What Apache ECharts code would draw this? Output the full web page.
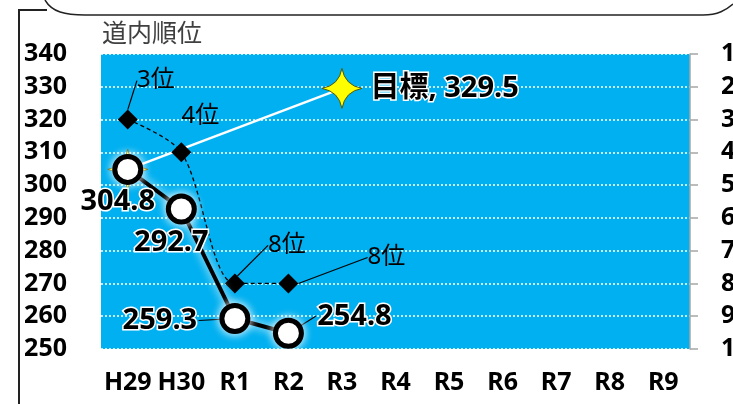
<!DOCTYPE html>
<html>
<head>
<meta charset="utf-8">
<script src="https://cdn.jsdelivr.net/npm/echarts@6/dist/echarts.min.js"></script>
<style>
  html, body { margin: 0; padding: 0; background: #fff; }
  #chart { width: 733px; height: 404px; }
</style>
</head>
<body>
<div id="chart"></div>
<script>
// 年度
var years = ['H29', 'H30', 'R1', 'R2', 'R3', 'R4', 'R5', 'R6', 'R7', 'R8', 'R9'];
// 平均点
var scores = [304.8, 292.7, 259.3, 254.8];
// 道内順位
var ranks = [3, 4, 8, 8];
// 目標 (H29 から R3 へ)
var target = [304.8, null, null, null, 329.5];

var FONT = "'Noto Sans', 'Noto Sans CJK JP', sans-serif";
var chart = echarts.init(document.getElementById('chart'));

// ラベルの位置 (点からのずれ)
var rankShift = [[28, -39], [19, -36], [52, -38], [98, -26]];
var scoreShift = [[-10, 32], [-10, 34], [-75, 2], [66, -17]];

var option = {
  animation: false,
  title: {
    text: '道内順位',
    left: 97,
    top: 17,
    textStyle: { fontFamily: FONT, fontSize: 25, fontWeight: 'normal', color: '#404040' }
  },
  grid: {
    left: 101, right: 43, top: 54, bottom: 55,
    show: true, backgroundColor: '#00B0F0', borderWidth: 0,
    containLabel: false, outerBoundsMode: 'none'
  },
  xAxis: {
    type: 'category',
    data: years,
    axisLine: { show: false },
    axisTick: { show: false },
    axisLabel: { interval: 0, fontFamily: FONT, fontSize: 25, fontWeight: 'bold', color: '#000', margin: 21 }
  },
  yAxis: [
    {
      type: 'value', min: 250, max: 340, interval: 10,
      axisLine: { show: false }, axisTick: { show: false },
      axisLabel: { fontFamily: FONT, fontSize: 25, fontWeight: 'bold', color: '#000', margin: 34 },
      splitLine: { lineStyle: { color: '#fff', width: 1.5, type: [2, 2] } }
    },
    {
      type: 'value', min: 1, max: 10, interval: 1, inverse: true, position: 'right',
      axisLine: { show: true, lineStyle: { color: '#a6a6a6', width: 1.5 } },
      axisTick: { show: true, length: 8, lineStyle: { color: '#a6a6a6', width: 1.5 } },
      axisLabel: { fontFamily: FONT, fontSize: 25, fontWeight: 'bold', color: '#000', margin: 31 },
      splitLine: { show: false }
    }
  ],
  series: [
    {
      name: '目標',
      type: 'line',
      yAxisIndex: 0,
      connectNulls: true,
      data: target.map(function (v, i) {
        return { value: v, label: { show: i === target.length - 1 } };
      }),
      symbol: 'path://M0,-20 Q3,-3 20,0 Q3,3 0,20 Q-3,3 -20,0 Q-3,-3 0,-20Z',
      symbolSize: [40, 40],
      itemStyle: { color: '#ffff00', borderColor: '#5a5a00', borderWidth: 1 },
      lineStyle: { color: '#fff', width: 2.5 },
      label: {
        position: 'right', distance: 8,
        formatter: '{a}, {c}',
        fontFamily: FONT, fontSize: 29, fontWeight: 'bold', color: '#000',
        textBorderColor: '#fff', textBorderWidth: 3
      },
      z: 2
    },
    {
      name: '道内順位',
      type: 'line',
      yAxisIndex: 1,
      data: ranks.map(function (v, i) {
        return { value: v, labelLine: { show: i !== 1 } };
      }),
      smooth: 0.3,
      symbol: 'diamond',
      symbolSize: 20,
      itemStyle: { color: '#000' },
      lineStyle: { color: '#000', width: 1.3, type: [4, 3] },
      label: {
        show: true, position: 'inside', formatter: '{c}位',
        fontFamily: FONT, fontSize: 24, color: '#000'
      },
      labelLayout: function (p) {
        return { dx: rankShift[p.dataIndex][0], dy: rankShift[p.dataIndex][1] };
      },
      labelLine: { show: true, lineStyle: { color: '#000', width: 1.2 } },
      z: 3
    },
    {
      name: '平均点',
      type: 'line',
      yAxisIndex: 0,
      data: scores.map(function (v, i) {
        return { value: v, labelLine: { show: i > 1 } };
      }),
      symbol: 'circle',
      symbolSize: 26,
      itemStyle: {
        color: '#fff', borderColor: '#000', borderWidth: 5,
        shadowColor: 'rgba(255,255,255,0.95)', shadowBlur: 10
      },
      lineStyle: {
        color: '#000', width: 4,
        shadowColor: 'rgba(255,255,255,1)', shadowBlur: 10
      },
      label: {
        show: true, position: 'inside',
        fontFamily: FONT, fontSize: 29, fontWeight: 'bold', color: '#000',
        textBorderColor: '#fff', textBorderWidth: 3
      },
      labelLayout: function (p) {
        return { dx: scoreShift[p.dataIndex][0], dy: scoreShift[p.dataIndex][1] };
      },
      labelLine: { show: true, lineStyle: { color: '#000', width: 1.2 } },
      z: 4
    }
  ],
  // 外枠と吹き出し
  graphic: [
    { type: 'polyline', shape: { points: [[19, 404], [19, 10], [47, 10]] },
      style: { stroke: '#222', lineWidth: 2, fill: null } },
    { type: 'bezierCurve', shape: { x1: 45, y1: 0, cpx1: 52, cpy1: 12, cpx2: 65, cpy2: 15, x2: 85, y2: 15 },
      style: { stroke: '#222', lineWidth: 1.5, fill: null } },
    { type: 'line', shape: { x1: 85, y1: 15, x2: 703, y2: 15 },
      style: { stroke: '#222', lineWidth: 1.5 } },
    { type: 'bezierCurve', shape: { x1: 703, y1: 15, cpx1: 718, cpy1: 15, cpx2: 726, cpy2: 10, x2: 733, y2: 4 },
      style: { stroke: '#222', lineWidth: 1.5, fill: null } }
  ]
};

chart.setOption(option);
</script>
</body>
</html>
